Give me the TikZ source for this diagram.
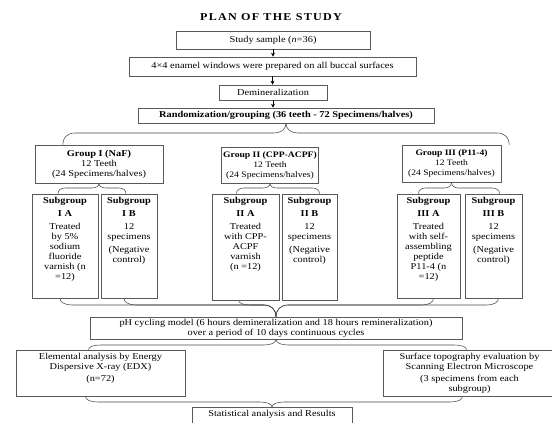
\documentclass[tikz,border=0pt]{standalone}
\usepackage{fontspec}
\setmainfont{Liberation Serif}[FakeStretch=1.15]
\newfontfamily\titlefont{Liberation Serif}[FakeStretch=1.15,LetterSpace=12]
\usetikzlibrary{arrows.meta,calc}
\newcommand\fs{\fontsize{9}{10}\selectfont}
\newcommand\topbox[3]{\parbox[c][#2][t]{#1}{\centering #3}}
\newcommand\brc[4][10]{%
  \draw[br] let \p1=(#2), \p2=(#4), \p3=(#3), \n1={sign(\x2-\x1)} in
   (\p1) .. controls (\x1,{0.4*\y1+0.6*\y3}) and (\x1+\n1*#1*0.4pt,\y3) .. (\x1+\n1*#1*1pt,\y3)
   -- (\x2-\n1*#1*1pt,\y3) .. controls (\x2-\n1*#1*0.4pt,\y3) and (\x2,{0.4*\y2+0.6*\y3}) .. (\p2);}
\begin{document}
\begin{tikzpicture}[x=1pt,y=-1pt,
  box/.style={draw=gray!70!black, line width=0.6pt, inner sep=0pt, align=center, font=\fs},
  br/.style={draw=gray!60!black, line width=0.55pt},
  arr/.style={draw=black, line width=0.6pt, -{Stealth[length=4pt,width=4pt]}}]
\clip (0,0) rectangle (552,423);
\fill[white] (0,0) rectangle (552,423);

\node[font=\titlefont\fontsize{10.5}{12}\selectfont\bfseries] (title) at (271,17) {PLAN OF THE STUDY};

\node[box, minimum width=194pt, minimum height=18pt] (study) at (273,40) {Study sample (\textit{n}=36)};
\node[box, minimum width=287pt, minimum height=19pt] (win) at (272.5,66.5) {4×4 enamel windows were prepared on all buccal surfaces};
\node[box, minimum width=108pt, minimum height=15pt] (demin) at (273,92.5) {Demineralization};
\node[box, minimum width=296pt, minimum height=15pt, font=\fs\bfseries] (rand) at (286,115.5) {Randomization/grouping (36 teeth - 72 Specimens/halves)};

\draw[arr] (study.south) -- (study.south |- win.north);
\draw[arr] (win.south) -- (win.south |- demin.north);
\draw[arr] (demin.south) -- (demin.south |- rand.north);

\node[box, minimum width=128pt, minimum height=38pt] (g1) at (99,164) {\textbf{Group I (NaF)}\\12 Teeth\\(24 Specimens/halves)};
\node[box, minimum width=97pt, minimum height=36pt, font=\fontsize{8.4}{10}\selectfont] (g2) at (270,165) {\textbf{Group II (CPP-ACPF)}\\12 Teeth\\(24 Specimens/halves)};
\node[box, minimum width=99pt, minimum height=37pt, font=\fontsize{8.3}{10}\selectfont] (g3) at (451.5,163.5) {\textbf{Group III (P11-4)}\\12 Teeth\\(24 Specimens/halves)};

\node[box, minimum width=66pt, minimum height=104pt] (s1a) at (65,246) {\topbox{62pt}{100pt}{\vspace{1pt}\textbf{Subgroup}\\[3pt]\textbf{I A}\\[3pt]Treated\\by 5\%\\sodium\\fluoride\\varnish (n\\=12)}};
\node[box, minimum width=56pt, minimum height=104pt] (s1b) at (129,246) {\topbox{52pt}{100pt}{\vspace{1pt}\textbf{Subgroup}\\[3pt]\textbf{I B}\\[3pt]12\\specimens\\[3pt](Negative\\control)}};
\node[box, minimum width=67pt, minimum height=106pt] (s2a) at (245.5,247) {\topbox{63pt}{102pt}{\vspace{1pt}\textbf{Subgroup}\\[3pt]\textbf{II A}\\[3pt]Treated\\with CPP-\\ACPF\\varnish\\(n =12)}};
\node[box, minimum width=55pt, minimum height=106pt] (s2b) at (309.5,247) {\topbox{52pt}{102pt}{\vspace{1pt}\textbf{Subgroup}\\[3pt]\textbf{II B}\\[3pt]12\\specimens\\[3pt](Negative\\control)}};
\node[box, minimum width=63pt, minimum height=104pt] (s3a) at (428.5,246) {\topbox{59pt}{100pt}{\vspace{1pt}\textbf{Subgroup}\\[3pt]\textbf{III A}\\[3pt]Treated\\with self-\\assembling\\peptide\\P11-4 (n\\=12)}};
\node[box, minimum width=57pt, minimum height=104pt] (s3b) at (493.5,246) {\topbox{53pt}{100pt}{\vspace{1pt}\textbf{Subgroup}\\[3pt]\textbf{III B}\\[3pt]12\\specimens\\[3pt](Negative\\control)}};

\node[box, minimum width=372pt, minimum height=22pt] (ph) at (276,328) {pH cycling model (6 hours demineralization and 18 hours remineralization)\\over a period of 10 days continuous cycles};

\node[box, minimum width=169pt, minimum height=46pt] (edx) at (100.5,373) {\topbox{165pt}{42pt}{\vspace{1pt}Elemental analysis by Energy\\Dispersive X-ray (EDX)\\[2pt](n=72)}};
\node[box, minimum width=173pt, minimum height=46pt] (sem) at (469.5,373) {\topbox{169pt}{42pt}{\vspace{1pt}Surface topography evaluation by\\Scanning Electron Microscope\\[2pt](3 specimens from each\\subgroup)}};

\node[box, minimum width=160pt, minimum height=30pt, anchor=north] (stat) at (272,407) {\topbox{156pt}{26pt}{\vspace{1pt}Statistical analysis and Results}};

% brace levels
\coordinate (L1) at (0,133);
\coordinate (L2) at (0,188);
\coordinate (L3) at (0,305);
\coordinate (L4) at (0,345);
\coordinate (L5) at (0,402);

\brc[12]{rand.south}{L1}{$(g1.north west)+(28,0)$}
\brc[12]{rand.south}{L1}{$(g3.north east)+(8,0)$}

\brc[7]{g1.south}{L2}{$(s1a.north)+(-7,0)$}
\brc[7]{g1.south}{L2}{$(s1b.north)+(-3,0)$}
\brc[7]{g2.south}{L2}{$(s2a.north)+(-9,0)$}
\brc[7]{g2.south}{L2}{$(s2b.north)+(10,0)$}
\brc[7]{g3.south}{L2}{$(s3a.north)+(-10,0)$}
\brc[7]{g3.south}{L2}{$(s3b.north)+(6,0)$}

\brc[12]{ph.north}{L3}{$(s1a.south)+(-5,0)$}
\brc[12]{ph.north}{L3}{$(s1b.south)+(-5,0)$}
\brc[12]{ph.north}{L3}{$(s2a.south)+(-7,0)$}
\brc[12]{ph.north}{L3}{$(s3a.south)+(5,0)$}
\brc[12]{ph.north}{L3}{$(s3b.south)+(5,0)$}

\brc[12]{ph.south}{L4}{$(edx.north)+(-12,0)$}
\brc[12]{ph.south}{L4}{$(sem.north)+(-3,0)$}

\brc[12]{stat.north}{L5}{$(edx.south)+(-15,0)$}
\brc[12]{stat.north}{L5}{$(sem.south)+(-7,0)$}
\end{tikzpicture}
\end{document}
